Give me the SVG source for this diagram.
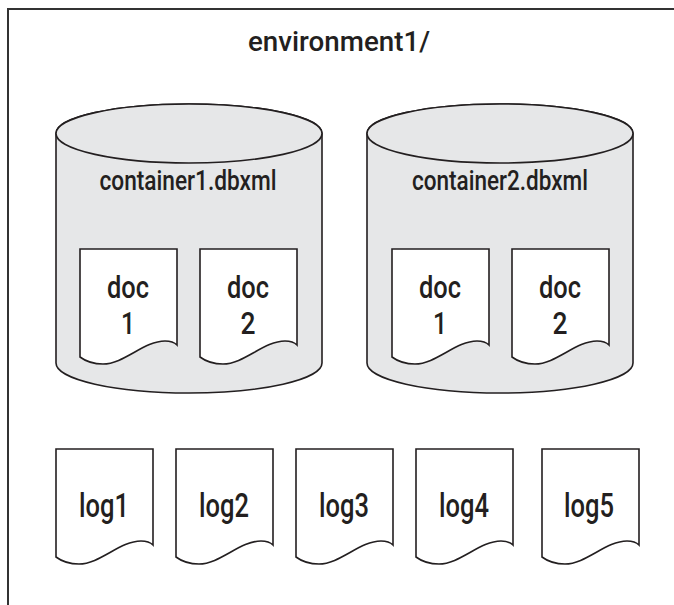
<svg xmlns="http://www.w3.org/2000/svg" width="674" height="605" viewBox="0 0 674 605">
<style>
.frame{fill:none;stroke:#333;stroke-width:2}
.cyl{fill:#e6e7e8;stroke:#231f20;stroke-width:1.6}
.doc{fill:#fff;stroke:#231f20;stroke-width:1.6;stroke-linejoin:miter}
text{font-family:Roboto,"Liberation Sans",Arial,sans-serif;font-weight:500;fill:#231f20;text-anchor:middle}
.t26{font-size:28px}
.t30{font-size:31px}
.t31{font-size:33px}
</style>
<defs>
<path id="docshape" d="M0,0 H97 V96 Q93,92 85,92 C64,92 44,115 23,115 C10,115 4,111 0,108 Z"/>
</defs>
<rect width="674" height="605" fill="#fff"/>
<path class="frame" d="M8,605 V9 H674"/>
<g id="title"><text class="t26" x="339" y="51" textLength="182" lengthAdjust="spacingAndGlyphs">environment1/</text></g>
<g id="connectors"></g>
<g id="container1">
<path class="cyl" d="M56,133.5 A133,29.5 0 0,1 322,133.5 V363 A133,30 0 0,1 56,363 Z"/>
<ellipse class="cyl" cx="189" cy="133.5" rx="133" ry="29.5"/>
<text class="t26" x="188" y="190" textLength="177" lengthAdjust="spacingAndGlyphs">container1.dbxml</text>
</g>
<g id="c1doc1">
<use href="#docshape" class="doc" x="80" y="249"/>
<text class="t30" x="128" y="298" textLength="42" lengthAdjust="spacingAndGlyphs">doc</text>
<text class="t30" x="128" y="334" textLength="14" lengthAdjust="spacingAndGlyphs">1</text>
</g>
<g id="c1doc2">
<use href="#docshape" class="doc" x="200" y="249"/>
<text class="t30" x="248" y="298" textLength="42" lengthAdjust="spacingAndGlyphs">doc</text>
<text class="t30" x="248" y="334" textLength="15" lengthAdjust="spacingAndGlyphs">2</text>
</g>
<g id="container2">
<path class="cyl" d="M367,133.5 A133,29.5 0 0,1 633,133.5 V363 A133,30 0 0,1 367,363 Z"/>
<ellipse class="cyl" cx="500" cy="133.5" rx="133" ry="29.5"/>
<text class="t26" x="500" y="190" textLength="176" lengthAdjust="spacingAndGlyphs">container2.dbxml</text>
</g>
<g id="c2doc1">
<use href="#docshape" class="doc" x="392" y="249"/>
<text class="t30" x="440" y="298" textLength="42" lengthAdjust="spacingAndGlyphs">doc</text>
<text class="t30" x="440" y="334" textLength="14" lengthAdjust="spacingAndGlyphs">1</text>
</g>
<g id="c2doc2">
<use href="#docshape" class="doc" x="512" y="249"/>
<text class="t30" x="560" y="298" textLength="42" lengthAdjust="spacingAndGlyphs">doc</text>
<text class="t30" x="560" y="334" textLength="15" lengthAdjust="spacingAndGlyphs">2</text>
</g>
<g id="log1">
<use href="#docshape" class="doc" x="56" y="449"/>
<text class="t31" x="104" y="517" textLength="50" lengthAdjust="spacingAndGlyphs">log1</text>
</g>
<g id="log2">
<use href="#docshape" class="doc" x="176" y="449"/>
<text class="t31" x="224" y="517" textLength="50" lengthAdjust="spacingAndGlyphs">log2</text>
</g>
<g id="log3">
<use href="#docshape" class="doc" x="296" y="449"/>
<text class="t31" x="344" y="517" textLength="50" lengthAdjust="spacingAndGlyphs">log3</text>
</g>
<g id="log4">
<use href="#docshape" class="doc" x="416" y="449"/>
<text class="t31" x="464" y="517" textLength="50" lengthAdjust="spacingAndGlyphs">log4</text>
</g>
<g id="log5">
<use href="#docshape" class="doc" x="542" y="449"/>
<text class="t31" x="589" y="517" textLength="50" lengthAdjust="spacingAndGlyphs">log5</text>
</g>
</svg>
